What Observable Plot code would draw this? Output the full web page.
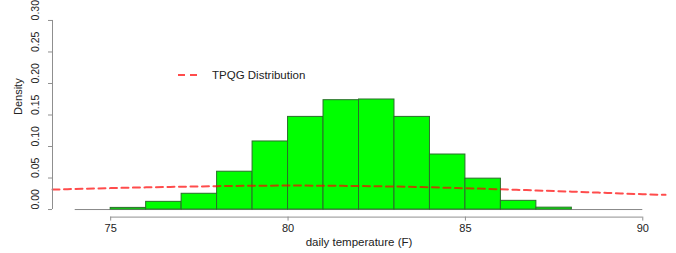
<!DOCTYPE html>
<html>
<head>
<meta charset="utf-8">
<script src="https://cdn.jsdelivr.net/npm/d3@7"></script>
<script src="https://cdn.jsdelivr.net/npm/@observablehq/plot@0.6"></script>
<style>
  body { margin: 0; background: #fff; }
  #wrap { position: relative; width: 676px; height: 253px; font-family: "Liberation Sans", Arial, sans-serif; }
  #legend { position: absolute; left: 176px; top: 69px; display: flex; align-items: center; font-size: 11.5px; color: #222; }
  #legend svg { margin-right: 12px; }
</style>
</head>
<body>
<div id="wrap">
  <div id="chart"></div>
  <div id="legend">
    <svg width="24" height="6"><line x1="2" y1="3" x2="22" y2="3" stroke="red" stroke-opacity="0.7" stroke-width="2" stroke-dasharray="7,5"></line></svg>
    <span>TPQG Distribution</span>
  </div>
</div>
<script>
// Histogram bins (daily temperature, F) and densities
const binStart = [74, 75, 76, 77, 78, 79, 80, 81, 82, 83, 84, 85, 86, 87, 88, 89];
const binEnd   = [75, 76, 77, 78, 79, 80, 81, 82, 83, 84, 85, 86, 87, 88, 89, 90];
const density  = [0, 0.0026, 0.0122, 0.025, 0.060, 0.108, 0.147, 0.1735, 0.1746, 0.147, 0.0873, 0.049, 0.0138, 0.003, 0, 0];

// TPQG fitted density curve
const curveX = [73.36, 74, 75, 76, 77, 78, 79, 80, 81, 82, 83, 84, 85, 86, 87, 88, 89, 90, 90.64];
const curveY = [0.0317, 0.0326, 0.0340, 0.0352, 0.0362, 0.0371, 0.0377, 0.0380, 0.0378, 0.0373, 0.0365, 0.0353, 0.0338, 0.0321, 0.0303, 0.0284, 0.0264, 0.0243, 0.0233];

const xTicks = [75, 80, 85, 90];
const yTicks = [0, 0.05, 0.10, 0.15, 0.20, 0.25, 0.30];

const bins = binStart.map((s, i) => ({x0: s, x1: binEnd[i], d: density[i]}));
const curve = curveX.map((x, i) => ({x, y: curveY[i]}));

const lo = binStart[0], hi = binEnd[binEnd.length - 1];
const xMin = lo - 0.04 * (hi - lo), xMax = hi + 0.04 * (hi - lo);
const yLo = yTicks[0], yHi = yTicks[yTicks.length - 1];
const yMin = yLo - 0.04 * (yHi - yLo), yMax = yHi + 0.04 * (yHi - yLo);

const axisColor = "#8f8f8f";
const textColor = "#222";

const chart = Plot.plot({
  width: 676,
  height: 253,
  marginLeft: 52,
  marginRight: 11,
  marginTop: 12.4,
  marginBottom: 36.4,
  style: {fontFamily: '"Liberation Sans", Arial, sans-serif', background: "#fff"},
  x: {domain: [xMin, xMax], axis: null},
  y: {domain: [yMin, yMax], axis: null},
  marks: [
    Plot.ruleY([0], {x1: lo, x2: hi, stroke: "#888", strokeWidth: 1}),
    Plot.rectY(bins, {x1: "x0", x2: "x1", y: "d", fill: "#00ff00", stroke: "#2a6e2a", strokeWidth: 1, inset: 0}),
    Plot.line(curve, {x: "x", y: "y", stroke: "red", strokeOpacity: 0.7, strokeWidth: 2, strokeDasharray: "7,4.5", curve: "monotone-x"}),
    // x axis
    Plot.ruleY([yMin], {x1: xTicks[0], x2: xTicks[xTicks.length - 1], stroke: axisColor}),
    Plot.axisX({ticks: xTicks, tickSize: 4, tickPadding: 3.5, fontSize: 11, stroke: axisColor, color: textColor, label: null, tickFormat: d => String(d)}),
    Plot.text(["daily temperature (F)"], {frameAnchor: "bottom", dy: 28.5, text: d => d, fontSize: 11.5, fill: textColor}),
    // y axis
    Plot.ruleX([xMin], {y1: yLo, y2: yHi, stroke: axisColor}),
    Plot.axisY({ticks: yTicks, tickSize: 4, stroke: axisColor, label: null, tickFormat: () => ""}),
    Plot.text(yTicks, {y: d => d, frameAnchor: "left", dx: -17, rotate: -90, text: d => d.toFixed(2), fontSize: 10.5, fill: textColor}),
    Plot.text(["Density"], {frameAnchor: "left", dx: -34, rotate: -90, text: d => d, fontSize: 11, fill: textColor})
  ]
});
document.getElementById("chart").appendChild(chart);
</script>
</body>
</html>
